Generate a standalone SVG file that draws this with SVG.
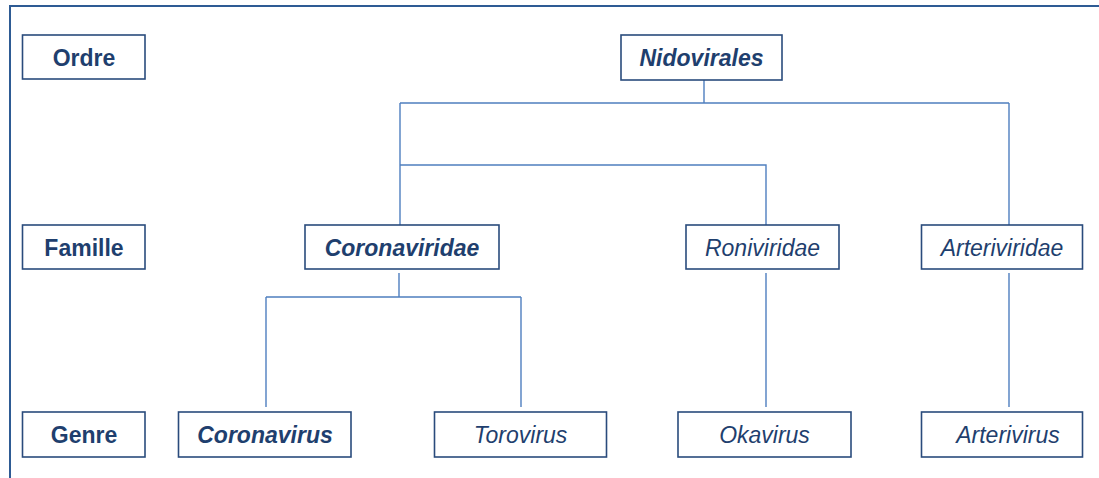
<svg xmlns="http://www.w3.org/2000/svg" width="1099" height="478" viewBox="0 0 1099 478">
<style>
.box{fill:#fff;stroke:#2a4b7c;stroke-width:1.6}
.t{font-family:"Liberation Sans",Arial,sans-serif;font-size:23px;fill:#1f3f6e;text-anchor:middle}
.b{font-weight:bold}
.i{font-style:italic}
.c{fill:none;stroke:#4f7fbf;stroke-width:1.4}
.f{fill:none;stroke:#2e5b94;stroke-width:2}
</style>
<rect width="1099" height="478" fill="#fff"/>
<path class="f" d="M10,478 V6 H1099"/>
<g id="connectors">
<path class="c" d="M704,80 V103 M400,103 H1009 M400,103 V225 M400,165 H766 V225 M1009,103 V225"/>
<path class="c" d="M399,273 V297 M266,297 H521 M266,297 V407 M521,297 V407"/>
<path class="c" d="M766,273 V407 M1009,273 V407"/>
</g>
<g id="ordre"><rect class="box" x="22.5" y="35" width="122.5" height="44"/><text class="t b" x="84" y="65.5">Ordre</text></g>
<g id="nidovirales"><rect class="box" x="621" y="35" width="161" height="45"/><text class="t b i" x="701.5" y="66">Nidovirales</text></g>
<g id="famille"><rect class="box" x="22.5" y="225" width="122.5" height="44"/><text class="t b" x="84" y="255.5">Famille</text></g>
<g id="coronaviridae"><rect class="box" x="305" y="225" width="194" height="44"/><text class="t b i" x="402" y="255.5">Coronaviridae</text></g>
<g id="roniviridae"><rect class="box" x="686" y="225" width="153" height="44"/><text class="t i" x="762.5" y="255.5">Roniviridae</text></g>
<g id="arteriviridae"><rect class="box" x="921.5" y="225" width="161" height="44"/><text class="t i" x="1002" y="255.5">Arteriviridae</text></g>
<g id="genre"><rect class="box" x="22.5" y="412" width="122.5" height="45"/><text class="t b" x="84" y="443">Genre</text></g>
<g id="coronavirus"><rect class="box" x="178.5" y="412" width="172.5" height="45"/><text class="t b i" x="265" y="443">Coronavirus</text></g>
<g id="torovirus"><rect class="box" x="434.5" y="412" width="172" height="45"/><text class="t i" x="520.5" y="443">Torovirus</text></g>
<g id="okavirus"><rect class="box" x="678" y="412" width="173" height="45"/><text class="t i" x="764.5" y="443">Okavirus</text></g>
<g id="arterivirus"><rect class="box" x="921.5" y="412" width="161" height="45"/><text class="t i" x="1008" y="443">Arterivirus</text></g>
</svg>
